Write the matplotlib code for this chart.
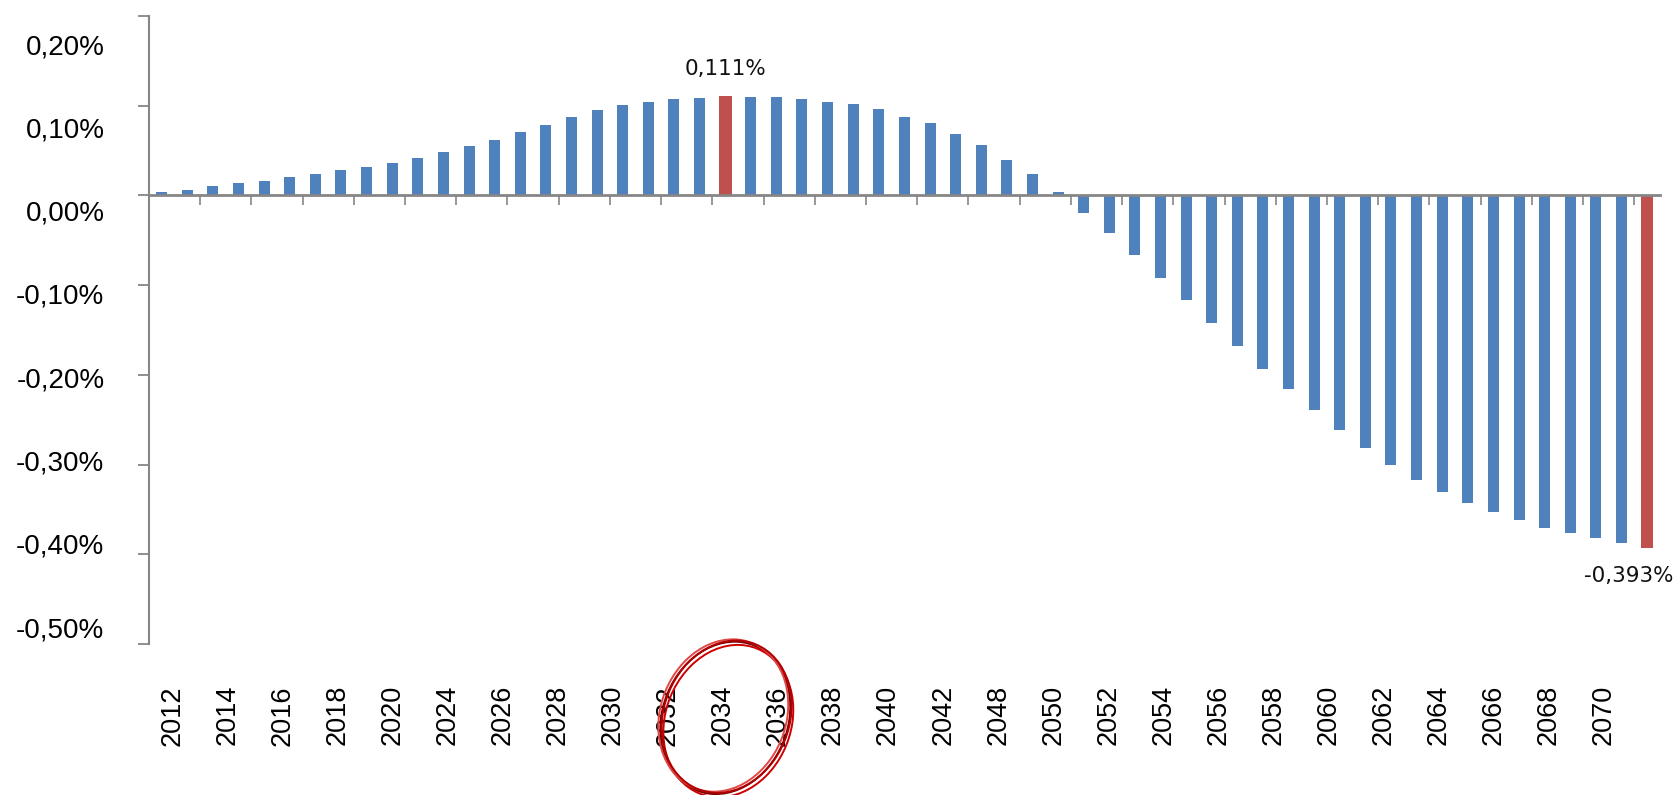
import matplotlib
matplotlib.use("Agg")
import matplotlib.pyplot as plt
import numpy as np
from matplotlib.patches import Ellipse

plt.rcParams["font.family"] = ["Liberation Sans", "DejaVu Sans"]

# Data: yearly change in percent
years = list(range(2012, 2071))
values = [
    0.004, 0.006, 0.011, 0.014, 0.016, 0.021, 0.024, 0.028, 0.032, 0.036,
    0.042, 0.048, 0.055, 0.062, 0.071, 0.079, 0.088, 0.095, 0.101, 0.104,
    0.107, 0.109, 0.111, 0.110, 0.110, 0.107, 0.104, 0.102, 0.096, 0.088,
    0.081, 0.068, 0.056, 0.040, 0.024, 0.004, -0.019, -0.042, -0.066, -0.092,
    -0.116, -0.142, -0.168, -0.193, -0.216, -0.239, -0.261, -0.281, -0.300, -0.317,
    -0.331, -0.343, -0.353, -0.362, -0.371, -0.376, -0.382, -0.387, -0.393,
]
highlight_years = [2034, 2070]
year_labels = [
    "2012", "2014", "2016", "2018", "2020", "2024", "2026", "2028", "2030",
    "2032", "2034", "2036", "2038", "2040", "2042", "2048", "2050", "2052",
    "2054", "2056", "2058", "2060", "2062", "2064", "2066", "2068", "2070",
]
y_ticks = [0.2, 0.1, 0.0, -0.1, -0.2, -0.3, -0.4, -0.5]

BLUE = "#4F81BD"
RED = "#C0504D"
GRAY = "#868686"

fig = plt.figure(figsize=(16.77, 7.95), dpi=100)
ax = fig.add_axes([0.0888, 0.1899, 0.9010, 0.7899])

x = np.arange(len(years))
colors = [RED if y in highlight_years else BLUE for y in years]
widths = [0.5 if y in highlight_years else 0.43 for y in years]
ax.bar(x, values, width=widths, color=colors, zorder=1)

ax.set_xlim(-0.5, len(years) - 0.5)
ax.set_ylim(-0.5, 0.2)

# axis styling (Excel look)
for side in ["top", "right"]:
    ax.spines[side].set_visible(False)
ax.spines["left"].set_color(GRAY)
ax.spines["left"].set_linewidth(1.5)
ax.spines["bottom"].set_position(("data", 0))
ax.spines["bottom"].set_color(GRAY)
ax.spines["bottom"].set_linewidth(2)
ax.spines["bottom"].set_zorder(3)

ax.set_yticks(y_ticks)
ax.set_yticklabels([])
ax.tick_params(axis="y", direction="out", length=8, width=1.3, color=GRAY)
ax.set_xticks([])
ax.set_xticks(np.arange(1.5, len(years) - 1, 2), minor=True)
ax.tick_params(axis="x", which="minor", direction="out", length=7, width=1.2,
               color=GRAY, labelbottom=False)

# y tick labels (placed on their own scale, as in the original picture)
ax_y = ax.twinx()
ax_y.set_ylim(-0.5204, 0.2336)
ax_y.yaxis.set_ticks_position("left")
ax_y.set_yticks(y_ticks)
ax_y.set_yticklabels([f"{v:.2f}%".replace(".", ",") for v in y_ticks], fontsize=20)
ax_y.tick_params(axis="y", length=0, pad=32)
for s in ax_y.spines.values():
    s.set_visible(False)

# x labels strip
ax_x = ax.twiny()
ax_x.set_xlim(-0.427, 27.02)
ax_x.xaxis.set_ticks_position("bottom")
ax_x.set_xticks(np.arange(len(year_labels)))
ax_x.set_xticklabels(year_labels, rotation=90, fontsize=19.5)
ax_x.tick_params(axis="x", length=0, pad=29.5)
for s in ax_x.spines.values():
    s.set_visible(False)

# data labels
i_peak = years.index(2034)
ax.annotate(f"{values[i_peak]:.3f}%".replace(".", ","), xy=(i_peak, values[i_peak]),
            xytext=(0, 19.5), textcoords="offset points", ha="center", va="center",
            fontsize=15.5, family="DejaVu Sans", color="#111111")
i_last = years.index(2070)
ax.annotate(f"{values[i_last]:.3f}%".replace(".", ","), xy=(i_last, values[i_last]),
            xytext=(-13, -20), textcoords="offset points", ha="center", va="center",
            fontsize=15.5, family="DejaVu Sans", color="#111111")

# hand-drawn red circle around 2034
for dx, dy, c in [(0.0, 0.0, "#7A0000"), (0.0018, -0.004, "#CC0000"),
                  (-0.0012, 0.003, "#E04848"), (0.0008, 0.0015, "#B00000")]:
    fig.add_artist(Ellipse((0.4325 + dx, 0.097 + dy), 0.0765, 0.192, angle=-4,
                           transform=fig.transFigure, fill=False, edgecolor=c, lw=1.4))

fig.savefig("out.png", dpi=100)
